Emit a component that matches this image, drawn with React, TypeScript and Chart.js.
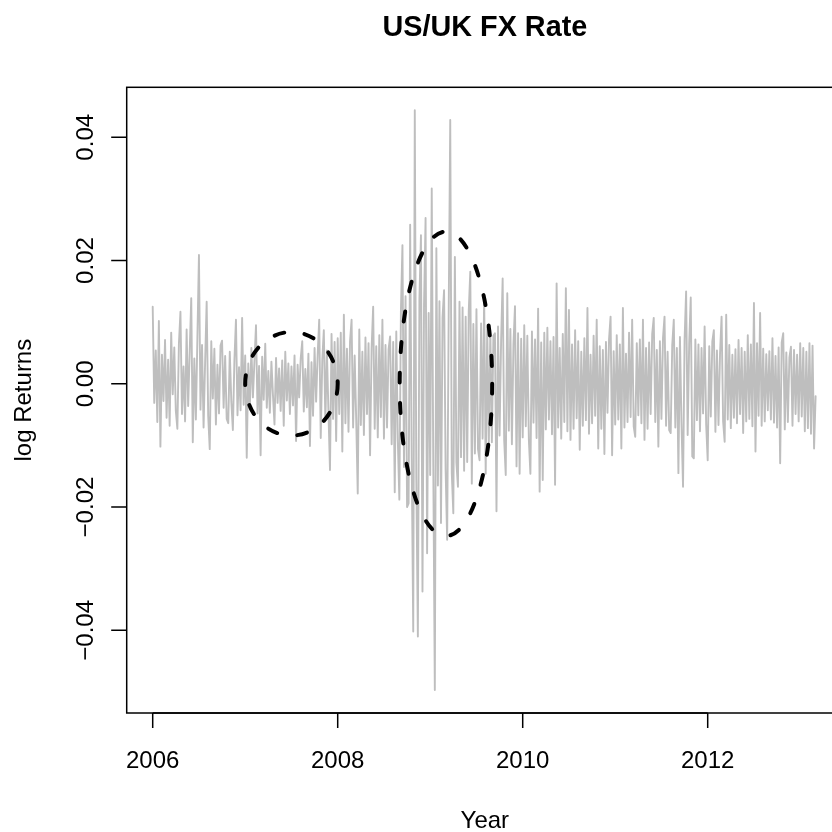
import React, { useEffect, useRef } from "react";
import { Chart, registerables } from "chart.js";

Chart.register(...registerables);

// ---- data ----
const TITLE = "US/UK FX Rate";
const X_TITLE = "Year";
const Y_TITLE = "log Returns";
const START_YEAR = 2006;
const OBS_PER_YEAR = 60;
const X_TICKS = [2006, 2008, 2010, 2012];
const Y_TICKS = [-0.04, -0.02, 0.0, 0.02, 0.04];
const Y_TICK_LABELS = ["\u22120.04", "\u22120.02", "0.00", "0.02", "0.04"];
const X_LIMITS = [2005.7189, 2013.3438];
const Y_LIMITS = [-0.05342, 0.04811];

// dashed ellipses: [centerYear, centerValue, radiusYears, radiusValue]
const ELLIPSE_CALM = [2007.5, 0.0, 0.5, 0.0084];
const ELLIPSE_CRISIS = [2009.17, 0.0, 0.5, 0.0247];

const logReturns = [
  0.0125, -0.0031, 0.0054, -0.0062, 0.0102, -0.0102, 0.0047, -0.0028, 0.0071, -0.0055,
  0.0039, -0.0068, 0.0083, -0.0017, 0.0059, -0.0044, -0.0073, 0.0065, 0.0117, -0.0049,
  0.0028, -0.0061, 0.0088, -0.0036, 0.0052, 0.0139, -0.0095, 0.0041, -0.0058, 0.0076,
  0.0209, -0.0042, 0.0063, -0.0071, 0.0035, 0.0133, -0.0052, -0.0106, 0.0069, -0.0024,
  0.0057, -0.0066, 0.0031, -0.0048, 0.0062, 0.0070, -0.0039, 0.0045, -0.0057, -0.0064,
  0.0052, -0.0029, -0.0075, 0.0038, 0.0104, -0.0051, 0.0027, -0.0043, 0.0107, -0.0034,
  0.0046, -0.0120, 0.0033, -0.0041, 0.0058, -0.0022, 0.0037, 0.0095, -0.0048, 0.0029,
  -0.0116, 0.0044, -0.0026, 0.0065, -0.0039, 0.0021, -0.0047, 0.0036, -0.0018, -0.0066,
  0.0042, -0.0031, 0.0025, -0.0044, 0.0038, -0.0068, 0.0052, -0.0027, 0.0033, -0.0049,
  0.0028, -0.0035, 0.0046, -0.0093, 0.0031, -0.0022, 0.0041, 0.0069, -0.0045, 0.0024,
  -0.0038, 0.0049, -0.0101, 0.0035, -0.0052, 0.0058, -0.0029, 0.0047, 0.0104, -0.0088,
  0.0039, 0.0087, -0.0061, 0.0054, -0.0046, -0.0140, 0.0081, -0.0057, 0.0068, -0.0093,
  0.0074, -0.0049, 0.0083, -0.0110, 0.0112, -0.0064, 0.0057, -0.0078, 0.0069, 0.0104,
  -0.0071, 0.0046, -0.0058, -0.0178, 0.0088, -0.0067, 0.0052, -0.0083, 0.0075, -0.0049,
  0.0066, -0.0116, 0.0058, 0.0125, -0.0073, 0.0061, -0.0087, 0.0079, -0.0054, 0.0104,
  -0.0089, 0.0063, -0.0071, 0.0056, 0.0077, -0.0098, 0.0068, -0.0176, 0.0085, -0.0092,
  -0.0188, 0.0118, 0.0225, -0.0135, 0.0142, -0.0200, -0.0194, 0.0258, -0.0121, -0.0402,
  0.0444, -0.0156, -0.0410, 0.0137, 0.0241, -0.0337, 0.0128, 0.0269, -0.0275, 0.0115,
  -0.0148, 0.0317, -0.0132, -0.0497, 0.0220, -0.0165, 0.0134, -0.0226, 0.0108, 0.0152,
  -0.0139, -0.0253, 0.0117, 0.0428, -0.0145, -0.0210, 0.0206, -0.0128, -0.0167, 0.0133,
  -0.0119, 0.0124, -0.0141, 0.0109, -0.0127, 0.0118, 0.0182, -0.0162, 0.0097, -0.0113,
  0.0121, -0.0106, -0.0124, 0.0098, -0.0089, 0.0144, -0.0146, 0.0092, -0.0103, 0.0087,
  -0.0095, 0.0078, 0.0082, -0.0207, 0.0093, -0.0084, 0.0071, 0.0171, -0.0092, -0.0148,
  0.0147, -0.0076, 0.0089, -0.0098, 0.0064, 0.0126, -0.0134, 0.0082, -0.0146, 0.0073,
  -0.0087, 0.0095, -0.0069, 0.0078, -0.0091, -0.0146, 0.0085, -0.0063, 0.0072, -0.0088,
  0.0122, -0.0175, 0.0067, -0.0156, 0.0083, -0.0074, 0.0091, -0.0058, 0.0069, -0.0082,
  0.0076, -0.0164, 0.0163, -0.0071, 0.0058, -0.0089, 0.0081, -0.0062, 0.0155, -0.0077,
  0.0120, -0.0091, 0.0064, -0.0073, 0.0087, -0.0056, 0.0069, -0.0107, 0.0052, -0.0068,
  0.0074, -0.0059, 0.0123, -0.0081, 0.0047, -0.0064, 0.0078, -0.0052, 0.0104, -0.0105,
  0.0061, -0.0073, 0.0055, -0.0114, 0.0068, -0.0047, 0.0072, 0.0109, -0.0116, 0.0053,
  -0.0066, 0.0079, -0.0058, 0.0064, -0.0105, 0.0123, -0.0071, 0.0049, -0.0062, 0.0083,
  -0.0054, 0.0104, -0.0069, -0.0086, 0.0066, -0.0051, 0.0072, -0.0064, 0.0104, -0.0091,
  0.0058, -0.0073, 0.0067, -0.0049, 0.0081, 0.0107, -0.0062, 0.0055, -0.0102, 0.0069,
  -0.0057, 0.0074, 0.0109, -0.0068, 0.0052, -0.0075, -0.0080, 0.0063, 0.0104, -0.0071,
  0.0058, -0.0145, 0.0076, -0.0064, -0.0167, 0.0071, 0.0150, -0.0083, 0.0066, 0.0140,
  -0.0118, -0.0121, 0.0072, -0.0059, 0.0064, -0.0077, 0.0058, -0.0048, 0.0093, -0.0066,
  -0.0124, 0.0061, -0.0053, 0.0069, 0.0087, -0.0078, 0.0054, -0.0067, 0.0049, 0.0109,
  -0.0061, -0.0094, 0.0112, -0.0058, 0.0063, -0.0072, 0.0047, -0.0055, 0.0056, -0.0064,
  0.0071, -0.0049, 0.0058, -0.0080, 0.0052, -0.0061, 0.0079, -0.0057, 0.0064, -0.0069,
  0.0131, -0.0110, 0.0066, -0.0052, 0.0115, -0.0068, 0.0057, -0.0061, 0.0048, -0.0043,
  0.0053, -0.0058, 0.0074, -0.0063, 0.0045, -0.0071, 0.0059, -0.0129, 0.0067, 0.0082,
  -0.0074, 0.0051, -0.0062, 0.0043, 0.0060, -0.0068, 0.0055, -0.0049, 0.0047, -0.0061,
  0.0066, -0.0053, 0.0058, -0.0077, 0.0052, -0.0072, 0.0066, -0.0081, 0.0062, -0.0105,
  -0.0020,
];

const FONT = "'Liberation Sans', Arial, Helvetica, sans-serif";

const rBasePlot = {
  id: "rBasePlot",
  afterDatasetsDraw(chart: any) {
    const ctx = chart.ctx as CanvasRenderingContext2D;
    const area = chart.chartArea;
    const xs = chart.scales.x;
    const ys = chart.scales.y;
    ctx.save();

    // dashed ellipses
    ctx.strokeStyle = "#000000";
    ctx.lineWidth = 4;
    ctx.lineCap = "round";
    ctx.setLineDash([10, 20.5]);
    for (const e of [ELLIPSE_CALM, ELLIPSE_CRISIS]) {
      const cx = xs.getPixelForValue(e[0]);
      const cy = ys.getPixelForValue(e[1]);
      const rx = Math.abs(xs.getPixelForValue(e[0] + e[2]) - cx);
      const ry = Math.abs(ys.getPixelForValue(e[1] + e[3]) - cy);
      ctx.beginPath();
      ctx.ellipse(cx, cy, rx, ry, 0, 0, Math.PI * 2);
      ctx.stroke();
    }
    ctx.setLineDash([]);
    ctx.lineCap = "butt";

    // frame (right edge lies beyond the canvas, as in the reference)
    ctx.lineWidth = 1.5;
    ctx.strokeStyle = "#000000";
    ctx.strokeRect(area.left, area.top, area.right - area.left + 40, area.bottom - area.top);

    // x axis ticks and labels
    ctx.fillStyle = "#000000";
    ctx.font = `24px ${FONT}`;
    ctx.textAlign = "center";
    ctx.textBaseline = "alphabetic";
    ctx.beginPath();
    const x0 = xs.getPixelForValue(X_TICKS[0]);
    const x1 = xs.getPixelForValue(X_TICKS[X_TICKS.length - 1]);
    ctx.moveTo(x0, area.bottom);
    ctx.lineTo(x1, area.bottom);
    for (const t of X_TICKS) {
      const px = xs.getPixelForValue(t);
      ctx.moveTo(px, area.bottom);
      ctx.lineTo(px, area.bottom + 15);
    }
    ctx.stroke();
    for (const t of X_TICKS) {
      ctx.fillText(String(t), xs.getPixelForValue(t), area.bottom + 54.5);
    }

    // y axis ticks and labels
    ctx.beginPath();
    for (const t of Y_TICKS) {
      const py = ys.getPixelForValue(t);
      ctx.moveTo(area.left, py);
      ctx.lineTo(area.left - 15.5, py);
    }
    ctx.stroke();
    Y_TICKS.forEach((t, i) => {
      const py = ys.getPixelForValue(t);
      ctx.save();
      ctx.translate(area.left - 33.4, py);
      ctx.rotate(-Math.PI / 2);
      ctx.fillText(Y_TICK_LABELS[i], 0, 0);
      ctx.restore();
    });

    // plot-region centre (the region extends past the right edge of the canvas)
    const plotRight = 843;
    const midX = (area.left + plotRight) / 2;
    const midY = (area.top + area.bottom) / 2;

    ctx.fillText(X_TITLE, midX, 828);
    ctx.save();
    ctx.translate(31, midY);
    ctx.rotate(-Math.PI / 2);
    ctx.fillText(Y_TITLE, 0, 0);
    ctx.restore();

    ctx.font = `bold 28.8px ${FONT}`;
    ctx.fillText(TITLE, midX, 36);

    ctx.restore();
  },
};

export default function App() {
  const ref = useRef<HTMLCanvasElement | null>(null);

  useEffect(() => {
    if (!ref.current) return;
    const points = logReturns.map((v, i) => ({ x: START_YEAR + i / OBS_PER_YEAR, y: v }));
    const chart = new Chart(ref.current, {
      type: "line",
      data: {
        datasets: [
          {
            label: Y_TITLE,
            data: points,
            borderColor: "#BEBEBE",
            borderWidth: 1.9,
            borderJoinStyle: "round",
            borderCapStyle: "round",
            pointRadius: 0,
            tension: 0,
            fill: false,
          },
        ],
      },
      options: {
        responsive: false,
        animation: false,
        devicePixelRatio: 1,
        layout: { padding: { left: 126.7, top: 87.3, right: 0, bottom: 119 } },
        plugins: { legend: { display: false }, tooltip: { enabled: false }, title: { display: false } },
        scales: {
          x: { type: "linear", min: X_LIMITS[0], max: X_LIMITS[1], display: false },
          y: { type: "linear", min: Y_LIMITS[0], max: Y_LIMITS[1], display: false },
        },
      },
      plugins: [rBasePlot],
    });
    return () => chart.destroy();
  }, []);

  return (
    <div style={{ position: "absolute", left: 0, top: 0, width: 832, height: 832, background: "#ffffff" }}>
      <canvas ref={ref} width={832} height={832} style={{ display: "block" }} />
    </div>
  );
}
